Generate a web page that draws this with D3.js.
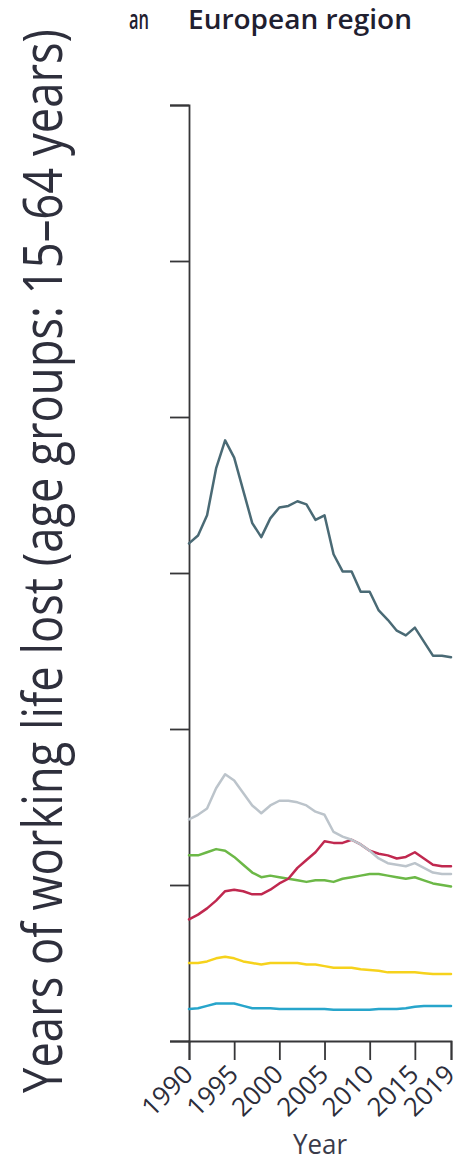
<!DOCTYPE html>
<html>
<head>
<meta charset="utf-8">
<script src="https://cdn.jsdelivr.net/npm/d3@7"></script>
<style>
  html, body { margin: 0; padding: 0; background: #fff; }
  svg { display: block; }
</style>
</head>
<body>
<svg id="chart" width="462" height="1162"></svg>
<script>
// Years 1990–2019
const years = d3.range(1990, 2020);

// Years of working life lost, 15–64 years, European region, by cause group
const seriesDark = [31.9, 32.4, 33.7, 36.7, 38.5, 37.4, 35.3, 33.2, 32.3, 33.5,
                    34.2, 34.3, 34.6, 34.4, 33.4, 33.7, 31.2, 30.1, 30.1, 28.8,
                    28.8, 27.6, 27.0, 26.3, 26.0, 26.5, 25.6, 24.7, 24.7, 24.6];
const seriesGrey = [14.2, 14.5, 14.9, 16.2, 17.1, 16.7, 15.9, 15.1, 14.6, 15.1,
                    15.4, 15.4, 15.3, 15.1, 14.7, 14.5, 13.4, 13.1, 12.9, 12.6,
                    12.2, 11.7, 11.4, 11.3, 11.2, 11.4, 11.1, 10.8, 10.7, 10.7];
const seriesRed = [7.8, 8.1, 8.5, 9.0, 9.6, 9.7, 9.6, 9.4, 9.4, 9.7,
                   10.1, 10.4, 11.1, 11.6, 12.1, 12.8, 12.7, 12.7, 12.9, 12.6,
                   12.2, 12.0, 11.9, 11.7, 11.8, 12.1, 11.7, 11.3, 11.2, 11.2];
const seriesGreen = [11.9, 11.9, 12.1, 12.3, 12.2, 11.8, 11.3, 10.8, 10.5, 10.6,
                     10.5, 10.4, 10.3, 10.2, 10.3, 10.3, 10.2, 10.4, 10.5, 10.6,
                     10.7, 10.7, 10.6, 10.5, 10.4, 10.5, 10.3, 10.1, 10.0, 9.9];
const seriesYellow = [5.0, 5.0, 5.1, 5.3, 5.4, 5.3, 5.1, 5.0, 4.9, 5.0,
                      5.0, 5.0, 5.0, 4.9, 4.9, 4.8, 4.7, 4.7, 4.7, 4.6,
                      4.55, 4.5, 4.4, 4.4, 4.4, 4.4, 4.35, 4.3, 4.3, 4.3];
const seriesCyan = [2.05, 2.1, 2.25, 2.4, 2.4, 2.4, 2.25, 2.1, 2.1, 2.1,
                    2.05, 2.05, 2.05, 2.05, 2.05, 2.05, 2.0, 2.0, 2.0, 2.0,
                    2.0, 2.05, 2.05, 2.05, 2.1, 2.2, 2.25, 2.25, 2.25, 2.25];

const yTicks = [0, 10, 20, 30, 40, 50, 60];
const xTicks = [1990, 1995, 2000, 2005, 2010, 2015, 2019];

const series = [
  { values: seriesCyan,   color: "#27a5cb" },
  { values: seriesYellow, color: "#f6d21c" },
  { values: seriesGreen,  color: "#6cb847" },
  { values: seriesRed,    color: "#c0284f" },
  { values: seriesGrey,   color: "#bcc4cb" },
  { values: seriesDark,   color: "#4a6a75" }
];

const svg = d3.select("#chart");
const axisColor = "#363638";
const textColor = "#2c2d3a";

const x = d3.scaleLinear().domain([1990, 2019]).range([189, 451]);
const y = d3.scaleLinear().domain([0, 60]).range([1041, 105]);

// Y axis: unlabelled ticks, outer ticks close the bracket at both ends
const yAxis = svg.append("g")
  .attr("transform", `translate(${x(1990)},0)`)
  .call(d3.axisLeft(y).tickValues(yTicks).tickSize(19).tickFormat(""));
yAxis.selectAll("path, line").attr("stroke", axisColor).attr("stroke-width", 1.8);

// X axis
const xAxis = svg.append("g")
  .attr("transform", `translate(0,${y(0)})`)
  .call(d3.axisBottom(x).tickValues(xTicks).tickSize(19).tickFormat(d3.format("d")));
xAxis.selectAll("path, line").attr("stroke", axisColor).attr("stroke-width", 1.8);
xAxis.selectAll("text")
  .attr("fill", textColor)
  .style("font-family", "'Open Sans', 'Liberation Sans', sans-serif")
  .style("font-size", "26px")
  .attr("text-anchor", "end")
  .attr("x", 0).attr("y", 0).attr("dy", 0)
  .attr("transform", "translate(5,35) rotate(-45)");

// Lines
const line = d3.line()
  .x((d, i) => x(years[i]))
  .y(d => y(d));

svg.append("g")
  .selectAll("path")
  .data(series)
  .join("path")
  .attr("d", s => line(s.values))
  .attr("fill", "none")
  .attr("stroke", s => s.color)
  .attr("stroke-width", 2.5)
  .attr("stroke-linejoin", "round")
  .attr("stroke-linecap", "round");

// Panel titles
svg.append("text")
  .attr("x", 149).attr("y", 29)
  .attr("text-anchor", "end")
  .attr("fill", "#1f2030")
  .style("font-family", "'Open Sans', sans-serif")
  .style("font-weight", 600)
  .style("font-size", "27px")
  .attr("textLength", 20)
  .attr("lengthAdjust", "spacingAndGlyphs")
  .text("an");

svg.append("text")
  .attr("x", 188).attr("y", 29)
  .attr("fill", "#1f2030")
  .style("font-family", "'Open Sans', sans-serif")
  .style("font-weight", 600)
  .style("font-size", "27px")
  .attr("textLength", 224)
  .attr("lengthAdjust", "spacingAndGlyphs")
  .text("European region");

// Axis titles
svg.append("text")
  .attr("x", 320).attr("y", 1154)
  .attr("text-anchor", "middle")
  .attr("fill", "#3a3b4a")
  .style("font-family", "'Open Sans', sans-serif")
  .style("font-size", "27px")
  .attr("textLength", 54)
  .attr("lengthAdjust", "spacingAndGlyphs")
  .text("Year");

// Tall, narrow y-axis title: glyphs stretched across the reading direction
svg.append("text")
  .attr("transform", "translate(62,561) rotate(-90) scale(1,1.32)")
  .attr("text-anchor", "middle")
  .attr("fill", "#2e2f3c")
  .style("font-family", "'Open Sans', sans-serif")
  .style("font-size", "42px")
  .attr("textLength", 1064)
  .attr("lengthAdjust", "spacingAndGlyphs")
  .text("Years of working life lost (age groups: 15–64 years)");
</script>
</body>
</html>
